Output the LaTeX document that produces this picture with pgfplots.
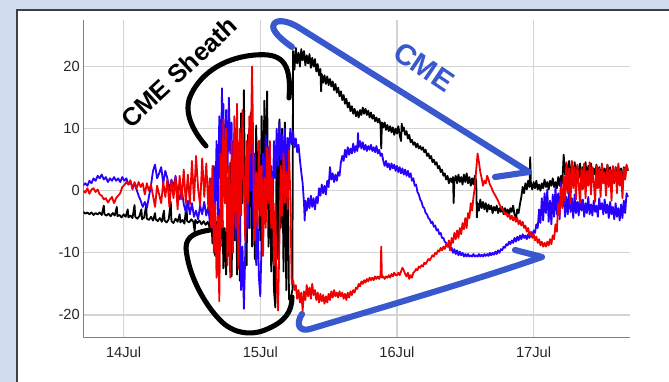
\documentclass[border=0pt]{standalone}
\usepackage{pgfplots}
\pgfplotsset{compat=1.18}
\usepackage{fontspec}
\setmainfont{Liberation Sans}
\definecolor{bgblue}{RGB}{207,221,239}
\definecolor{annblue}{RGB}{58,88,205}
\definecolor{serblue}{RGB}{40,0,255}
\definecolor{serred}{RGB}{240,0,0}
\begin{document}
\begin{tikzpicture}
\useasboundingbox (0,0) rectangle (501.75pt,286.5pt);
\fill[bgblue] (0,0) rectangle (501.75pt,286.5pt);
\begin{scope}[x=0.75pt,y=-0.75pt,shift={(0pt,286.5pt)}]
\fill[white] (17,10) rectangle (669,382);
\draw[black!75,line width=1.4pt] (17,382) -- (17,10) -- (669,10);
\end{scope}
\begin{axis}[at={(62.475pt,33.525pt)},anchor=south west,scale only axis,
  width=410pt,height=238pt,
  xmin=13.705,xmax=17.705,ymin=-23.6,ymax=27.5,
  axis x line*=bottom,axis y line*=left,
  axis line style={-,draw=black!50,line width=1.1pt},
  grid=major,major grid style={draw=black!17,line width=0.9pt},
  major tick length=0pt,
  xtick={14,15,16,17},xticklabels={14Jul,15Jul,16Jul,17Jul},
  ytick={-20,-10,0,10,20},yticklabels={-20,-10,0,10,20},
  ticklabel style={font=\fontsize{11}{12}\selectfont,text=black!85},
  yticklabel style={inner sep=0pt,xshift=-2.5pt},
  xticklabel style={inner sep=0pt,yshift=-6.8pt},
  every axis plot/.append style={line width=1.35pt,line join=round},
  clip=true]
% black
\addplot[black] coordinates {(13.705,-3.4)(13.72,-3.7)(13.735,-3.5)(13.75,-3.8)(13.765,-3.5)(13.78,-3.9)(13.795,-3.6)(13.81,-3.8)(13.825,-3.5)(13.84,-3.9)(13.855,-2.4)(13.86,-3.8)(13.875,-4.0)(13.89,-3.7)(13.905,-4.1)(13.92,-3.6)(13.935,-4.0)(13.95,-2.6)(13.955,-4.1)(13.97,-3.9)(13.985,-4.3)(14.00,-3.8)(14.015,-4.2)(14.03,-3.0)(14.035,-4.3)(14.05,-4.0)(14.065,-4.4)(14.08,-2.3)(14.085,-4.2)(14.10,-4.5)(14.115,-4.1)(14.13,-3.0)(14.135,-4.6)(14.15,-4.3)(14.165,-2.4)(14.17,-4.5)(14.185,-4.7)(14.20,-4.2)(14.215,-4.8)(14.23,-3.6)(14.235,-4.6)(14.25,-4.9)(14.265,-4.4)(14.28,-5.0)(14.295,-3.2)(14.30,-4.8)(14.315,-5.1)(14.33,-4.6)(14.345,-1.8)(14.35,-4.9)(14.365,-5.2)(14.38,-4.5)(14.395,-5.0)(14.41,-3.8)(14.415,-5.1)(14.43,-4.7)(14.445,-5.3)(14.46,-2.2)(14.465,-4.9)(14.48,-5.1)(14.495,-4.6)(14.51,-5.0)(14.52,-6.6)(14.525,-4.7)(14.54,-5.2)(14.555,-4.8)(14.57,-5.4)(14.585,-4.9)(14.60,-5.5)(14.615,-5.0)
(14.63,-6.0)(14.64,-3.5)(14.65,-8.5)(14.66,-4.0)(14.67,-10.5)(14.68,-5.0)(14.69,-12.0)(14.70,-3.0)(14.71,-9.0)(14.72,1.0)(14.73,-12.5)(14.74,-6.0)(14.75,-13.5)(14.76,-2.0)(14.77,-10.5)(14.78,4.5)(14.79,-13.8)(14.80,0.0)(14.81,-8.0)(14.82,10.0)(14.83,-13.5)(14.84,6.0)(14.85,-14.5)(14.86,12.5)(14.87,-2.0)(14.88,16.2)(14.89,-4.0)(14.90,-12.0)(14.91,9.0)(14.92,-6.0)(14.93,12.5)(14.94,-9.0)(14.95,6.0)(14.96,-11.0)(14.97,10.5)(14.98,-3.0)(14.99,8.0)(15.00,-8.0)(15.01,12.0)(15.02,-4.0)(15.03,14.5)(15.04,-1.0)(15.05,16.0)(15.06,-9.0)(15.07,6.0)(15.08,-13.0)(15.09,3.0)(15.10,-16.0)(15.11,-18.8)(15.12,7.0)(15.13,-11.0)(15.14,11.5)(15.15,-6.0)(15.16,10.0)(15.17,-13.0)(15.18,11.0)(15.19,-16.0)(15.20,8.0)(15.21,-17.5)(15.225,-17.0)(15.235,-16.0)
(15.24,22.5)(15.25,19.5)(15.26,23.0)(15.27,20.5)(15.28,22.2)(15.29,20.0)(15.30,22.8)(15.31,21.0)(15.32,22.5)(15.33,20.2)(15.34,21.8)(15.35,20.5)(15.36,22.0)(15.37,19.8)(15.38,21.4)(15.39,20.0)(15.40,21.2)(15.41,19.2)(15.42,20.4)(15.43,18.6)(15.44,19.6)(15.445,16.0)(15.45,18.8)(15.46,17.4)(15.47,18.6)(15.48,17.2)(15.49,18.4)(15.50,17.0)(15.51,18.0)(15.52,16.8)(15.53,17.6)(15.54,16.2)(15.55,17.2)(15.56,15.8)(15.57,16.6)(15.58,15.2)(15.59,16.0)(15.60,14.6)(15.61,15.4)(15.62,14.0)(15.63,14.8)(15.64,13.4)(15.65,14.2)(15.66,12.8)(15.67,13.6)(15.68,12.4)(15.69,13.2)(15.70,12.0)(15.71,12.8)(15.72,11.8)(15.73,13.0)(15.74,12.2)(15.75,13.4)(15.76,12.4)(15.77,13.2)(15.78,12.2)(15.79,12.9)(15.80,11.8)(15.81,12.6)(15.82,11.6)(15.83,12.2)(15.84,11.2)(15.85,11.8)(15.86,11.0)(15.87,11.6)(15.88,10.6)(15.885,6.8)(15.89,11.0)(15.90,10.2)(15.91,11.0)(15.92,9.8)(15.93,10.6)(15.94,9.6)(15.95,10.4)(15.96,9.4)(15.97,10.2)(15.98,9.0)(15.99,10.0)(16.00,9.2)(16.01,10.4)(16.02,9.0)(16.03,8.0)(16.035,10.8)(16.04,9.6)(16.05,10.2)(16.06,9.0)(16.07,9.6)(16.08,8.4)(16.09,9.0)(16.10,7.8)(16.11,8.2)(16.12,7.4)(16.13,7.8)(16.14,7.0)(16.15,7.6)(16.16,6.8)(16.17,7.2)(16.18,6.6)(16.19,7.0)(16.20,6.2)(16.21,6.6)(16.22,5.6)(16.23,6.0)(16.24,5.2)(16.25,5.6)(16.26,4.6)(16.27,5.0)(16.28,4.2)(16.29,4.6)(16.30,3.6)(16.31,4.0)(16.32,3.0)(16.33,3.4)(16.34,2.4)(16.35,2.8)(16.36,1.8)(16.37,2.4)(16.38,1.2)(16.39,2.0)(16.40,1.4)(16.41,2.2)(16.415,-2.0)(16.42,1.6)(16.43,2.4)(16.44,1.2)(16.45,2.6)(16.46,1.4)(16.47,2.2)(16.48,1.0)(16.49,2.6)(16.50,1.4)(16.51,2.8)(16.52,1.2)(16.53,2.2)(16.54,0.8)(16.55,2.0)(16.56,1.0)(16.57,2.4)(16.58,1.6)(16.585,-4.3)(16.59,-2.0)(16.60,-3.2)(16.61,-1.4)(16.62,-2.8)(16.63,-1.8)(16.64,-3.0)(16.65,-2.0)(16.66,-3.4)(16.67,-2.2)(16.68,-3.0)(16.69,-2.4)(16.70,-3.6)(16.71,-2.6)(16.72,-3.2)(16.73,-2.4)(16.74,-3.6)(16.75,-2.8)(16.76,-3.4)(16.77,-2.6)(16.78,-3.8)(16.79,-2.8)(16.80,-3.6)(16.81,-3.0)(16.82,-4.0)(16.83,-2.8)(16.84,-3.4)(16.85,-2.4)(16.86,-3.8)(16.87,-4.8)(16.88,-3.0)(16.89,-3.6)(16.90,-2.2)(16.91,-1.0)(16.92,0.6)(16.93,-0.4)(16.94,1.2)(16.95,0.2)(16.96,1.6)(16.97,0.6)(16.975,5.4)(16.98,1.2)(16.99,0.2)(17.00,1.4)(17.01,0.4)(17.02,1.6)(17.03,0.2)(17.04,1.0)(17.05,0.0)(17.06,1.2)(17.07,0.4)(17.08,1.8)(17.09,0.6)(17.10,1.4)(17.11,0.2)(17.12,1.6)(17.13,0.8)(17.14,2.0)(17.15,0.6)(17.16,1.4)(17.17,0.4)(17.18,2.2)(17.19,0.8)(17.20,2.4)(17.21,1.2)(17.22,5.8)(17.23,2.6)(17.24,4.4)(17.25,1.8)(17.26,4.8)(17.27,2.0)(17.28,4.2)(17.29,1.6)(17.30,4.6)(17.31,2.4)(17.32,4.0)(17.33,2.0)(17.34,4.4)(17.35,1.8)(17.36,3.8)(17.37,2.4)(17.38,4.6)(17.39,1.6)(17.40,4.0)(17.41,2.2)(17.42,4.4)(17.43,1.8)(17.44,3.6)(17.45,2.6)(17.46,4.2)(17.47,2.0)(17.48,3.8)(17.49,1.4)(17.50,4.0)(17.51,2.4)(17.52,3.6)(17.53,1.8)(17.54,4.2)(17.55,2.6)(17.56,3.8)(17.57,1.6)(17.58,3.4)(17.59,1.2)(17.60,3.8)(17.61,2.4)(17.62,4.0)(17.63,1.8)(17.64,3.6)(17.65,1.0)(17.66,3.8)(17.67,2.2)(17.68,4.0)(17.69,3.2)};
% blue
\addplot[serblue] coordinates {(13.705,0.9)(13.72,1.2)(13.735,0.8)(13.75,1.6)(13.765,1.2)(13.78,2.0)(13.795,1.6)(13.81,2.4)(13.825,2.0)(13.84,2.6)(13.855,1.8)(13.87,2.2)(13.885,1.4)(13.90,2.0)(13.915,1.6)(13.93,2.2)(13.945,1.6)(13.96,2.0)(13.975,1.4)(13.99,2.2)(14.005,1.6)(14.02,2.0)(14.035,1.0)(14.05,1.4)(14.065,0.6)(14.08,1.0)(14.095,0.2)(14.11,-0.8)(14.125,-1.6)(14.14,-2.6)(14.155,-1.8)(14.17,-2.8)(14.185,-1.0)(14.20,0.8)(14.215,3.2)(14.23,4.2)(14.245,2.0)(14.26,2.8)(14.275,3.8)(14.29,1.2)(14.305,3.2)(14.32,2.0)(14.335,0.0)(14.35,1.8)(14.365,0.6)(14.38,2.4)(14.395,-0.4)(14.41,-1.4)(14.425,0.4)(14.44,-2.2)(14.455,-3.4)(14.47,-1.6)(14.485,-3.8)(14.50,-2.0)(14.515,-4.2)(14.53,-3.2)(14.545,-4.6)(14.56,-2.4)(14.575,-3.8)(14.59,-1.8)(14.605,-4.0)(14.62,-2.6)
(14.63,-5.0)(14.64,2.0)(14.65,-6.0)(14.66,4.0)(14.67,-3.0)(14.68,8.0)(14.69,-4.0)(14.70,12.0)(14.71,2.0)(14.72,16.5)(14.725,4.0)(14.73,14.0)(14.74,-2.0)(14.75,13.0)(14.76,3.0)(14.77,15.0)(14.78,6.0)(14.79,11.0)(14.80,-4.0)(14.81,9.0)(14.82,-8.0)(14.83,5.0)(14.84,-12.0)(14.85,-4.0)(14.86,-16.0)(14.87,-9.0)(14.88,-19.0)(14.89,-10.0)(14.90,4.0)(14.91,-6.0)(14.92,10.0)(14.93,0.0)(14.94,8.0)(14.95,-6.0)(14.96,6.0)(14.97,-12.0)(14.98,-4.0)(14.99,-14.0)(15.00,-17.0)(15.01,-8.0)(15.02,6.0)(15.03,-2.0)(15.04,9.0)(15.05,2.0)(15.06,7.0)(15.07,-3.0)(15.08,4.0)(15.09,-5.0)(15.10,8.0)(15.11,2.0)(15.12,10.0)(15.13,4.0)(15.14,11.0)(15.15,5.0)(15.16,9.0)(15.17,3.0)(15.18,10.0)(15.19,2.0)(15.20,8.5)(15.21,6.0)
(15.22,10.0)(15.23,7.5)(15.24,9.6)(15.25,7.0)(15.26,8.4)(15.27,6.2)(15.28,7.4)(15.29,5.0)(15.30,3.0)(15.31,1.2)(15.32,-2.0)(15.325,-4.8)(15.33,-1.6)(15.34,-3.2)(15.35,-1.2)(15.36,-2.8)(15.37,-0.8)(15.38,-2.6)(15.39,-1.2)(15.40,-3.0)(15.41,-1.0)(15.42,-2.0)(15.43,0.4)(15.44,-0.8)(15.45,1.0)(15.46,-0.4)(15.47,0.8)(15.48,-0.6)(15.49,1.6)(15.50,0.6)(15.51,3.8)(15.52,1.8)(15.53,2.8)(15.54,1.4)(15.55,2.6)(15.56,1.6)(15.57,3.0)(15.58,2.4)(15.59,4.6)(15.60,5.6)(15.61,4.8)(15.62,6.6)(15.63,5.4)(15.64,7.0)(15.65,5.8)(15.66,6.8)(15.67,6.0)(15.68,7.6)(15.69,6.2)(15.70,7.2)(15.71,6.4)(15.715,9.3)(15.72,7.0)(15.73,8.0)(15.74,6.8)(15.75,7.8)(15.76,6.6)(15.77,7.4)(15.78,6.4)(15.79,7.2)(15.80,6.6)(15.81,7.4)(15.82,6.4)(15.83,7.0)(15.84,6.2)(15.85,7.2)(15.86,6.0)(15.87,6.6)(15.88,5.6)(15.89,6.0)(15.90,4.8)
(15.91,4.0)(15.92,4.8)(15.93,3.8)(15.94,4.4)(15.95,3.4)(15.96,4.4)(15.97,3.6)(15.98,4.2)(15.99,3.2)(16.00,4.0)(16.01,3.0)(16.02,3.8)(16.03,2.8)(16.04,3.6)(16.05,2.6)(16.06,3.4)(16.07,2.4)(16.08,3.2)(16.09,2.2)(16.10,2.8)(16.11,1.6)(16.12,2.0)(16.13,0.8)(16.14,1.0)(16.15,-0.2)(16.16,-0.6)(16.17,-1.4)(16.18,-1.8)(16.19,-2.6)(16.20,-2.8)(16.21,-3.6)(16.22,-3.8)(16.23,-4.4)(16.24,-4.6)(16.25,-5.2)(16.26,-5.0)(16.27,-5.8)(16.28,-5.6)(16.29,-6.4)(16.30,-6.2)(16.31,-7.0)(16.32,-6.8)(16.33,-7.6)(16.34,-7.6)(16.35,-8.2)(16.36,-8.4)(16.37,-9.0)(16.38,-8.8)(16.39,-9.6)(16.40,-9.2)(16.41,-10.0)(16.42,-9.4)(16.43,-10.2)(16.44,-9.6)(16.45,-10.4)(16.46,-9.8)(16.47,-10.4)(16.48,-10.0)(16.49,-10.6)(16.50,-10.2)(16.51,-10.6)(16.52,-10.2)(16.53,-10.6)(16.54,-10.4)(16.55,-10.6)(16.56,-10.2)(16.57,-10.6)(16.58,-10.4)(16.59,-10.6)(16.60,-10.2)(16.61,-10.6)(16.62,-10.3)(16.63,-10.6)(16.64,-10.2)(16.65,-10.5)(16.66,-10.2)(16.67,-10.5)(16.68,-10.0)(16.69,-10.4)(16.70,-10.0)(16.71,-10.3)(16.72,-9.8)(16.73,-10.2)(16.74,-9.6)(16.75,-10.0)(16.76,-9.4)(16.77,-9.6)(16.78,-9.0)(16.79,-9.2)(16.80,-8.6)(16.81,-8.8)(16.82,-8.2)(16.83,-8.6)(16.84,-8.0)(16.85,-8.4)(16.86,-7.6)(16.87,-8.2)(16.88,-7.4)(16.89,-8.0)(16.90,-7.2)(16.91,-7.8)(16.92,-7.0)(16.93,-7.6)(16.94,-7.2)(16.95,-7.8)(16.96,-7.0)(16.97,-7.6)(16.98,-6.8)(16.99,-7.4)(17.00,-6.4)(17.01,-6.8)(17.02,-5.4)(17.03,-6.0)(17.04,-3.0)(17.05,-5.2)(17.06,-1.2)(17.07,-4.8)(17.08,-0.4)(17.09,-3.6)(17.10,0.2)(17.11,-5.0)(17.12,-1.6)(17.13,-5.4)(17.14,-0.6)(17.15,-4.2)(17.16,0.6)(17.17,-3.8)(17.18,-0.4)(17.19,-4.6)(17.20,1.4)(17.21,-2.6)(17.22,-0.2)(17.23,-4.2)(17.24,-1.0)(17.25,-3.8)(17.26,0.2)(17.27,-3.4)(17.28,-1.2)(17.29,-4.4)(17.30,-0.6)(17.31,-3.6)(17.32,-1.8)(17.33,-4.0)(17.34,-0.8)(17.35,-3.2)(17.36,-1.4)(17.37,-4.2)(17.38,-2.0)(17.39,-3.6)(17.40,-1.0)(17.41,-3.8)(17.42,-2.2)(17.43,-4.0)(17.44,-1.6)(17.45,-3.4)(17.46,-2.4)(17.47,-4.2)(17.48,-1.2)(17.49,-3.0)(17.50,-2.0)(17.51,-3.8)(17.52,-1.4)(17.53,-3.6)(17.54,-2.2)(17.55,-4.4)(17.56,-1.8)(17.57,-3.8)(17.58,-2.6)(17.59,-4.6)(17.60,-2.0)(17.61,-4.2)(17.62,-2.8)(17.63,-4.8)(17.64,-2.2)(17.65,-4.4)(17.66,-1.6)(17.67,-3.6)(17.68,-0.4)(17.69,-1.0)};
% red
\addplot[serred] coordinates {(13.705,0.0)(13.72,-0.3)(13.735,0.4)(13.75,-0.5)(13.765,0.2)(13.78,0.4)(13.795,-0.2)(13.81,0.2)(13.825,-0.6)(13.84,-0.8)(13.855,-1.4)(13.87,-1.2)(13.885,-1.9)(13.90,-1.4)(13.915,-1.0)(13.93,-2.0)(13.945,-1.2)(13.96,-0.8)(13.975,-0.4)(13.99,0.6)(14.005,0.9)(14.02,1.4)(14.035,1.0)(14.05,1.7)(14.065,0.2)(14.08,1.4)(14.095,0.4)(14.11,1.4)(14.125,0.6)(14.14,1.2)(14.155,-0.6)(14.17,1.2)(14.185,0.0)(14.20,1.0)(14.215,-0.8)(14.23,-2.6)(14.245,0.8)(14.26,-0.6)(14.275,-2.0)(14.29,1.4)(14.305,-1.0)(14.32,1.8)(14.335,-2.6)(14.35,1.6)(14.365,-1.2)(14.38,2.2)(14.395,-3.0)(14.41,2.4)(14.425,-1.4)(14.44,3.4)(14.455,-2.0)(14.47,2.6)(14.485,-2.2)(14.50,4.8)(14.515,-1.6)(14.53,5.6)(14.545,0.4)(14.56,-2.4)(14.575,5.2)(14.59,-1.0)(14.605,4.4)(14.62,-3.0)
(14.63,2.0)(14.64,-6.0)(14.65,4.0)(14.66,-10.0)(14.67,-2.0)(14.68,-14.0)(14.69,-4.0)(14.70,-17.8)(14.705,-8.0)(14.71,6.0)(14.72,-6.0)(14.73,11.5)(14.74,-2.0)(14.75,10.0)(14.76,-12.0)(14.77,4.0)(14.78,-14.0)(14.79,8.0)(14.80,-10.0)(14.81,12.0)(14.82,-6.0)(14.83,14.0)(14.84,-12.5)(14.85,10.0)(14.86,-4.0)(14.87,13.0)(14.88,2.0)(14.89,-8.0)(14.90,8.0)(14.91,-2.0)(14.92,12.0)(14.93,6.0)(14.94,20.0)(14.95,4.0)(14.96,-8.0)(14.97,3.0)(14.98,-6.0)(14.99,8.0)(15.00,-4.0)(15.01,4.0)(15.02,-10.5)(15.03,2.0)(15.04,-6.0)(15.05,7.0)(15.06,-2.0)(15.07,8.0)(15.08,-6.0)(15.09,2.0)(15.10,-12.0)(15.11,-2.0)(15.12,-15.0)(15.13,-19.3)(15.14,-8.0)(15.15,4.0)(15.16,-4.0)(15.17,6.0)(15.18,-2.0)(15.19,3.0)(15.20,-3.0)(15.21,6.5)(15.22,-1.0)
(15.23,-15.0)(15.24,-14.4)(15.25,-16.0)(15.26,-15.2)(15.27,-17.4)(15.28,-16.0)(15.29,-18.0)(15.30,-16.4)(15.31,-19.3)(15.32,-16.2)(15.33,-17.6)(15.34,-15.2)(15.35,-17.0)(15.36,-15.6)(15.37,-17.4)(15.38,-15.0)(15.39,-16.8)(15.40,-16.0)(15.41,-17.6)(15.42,-16.4)(15.43,-18.0)(15.44,-16.6)(15.45,-17.8)(15.46,-16.8)(15.47,-18.2)(15.48,-17.0)(15.49,-18.0)(15.50,-16.6)(15.51,-17.6)(15.52,-16.2)(15.53,-17.2)(15.54,-16.0)(15.55,-17.0)(15.56,-16.4)(15.57,-17.2)(15.58,-16.2)(15.59,-17.0)(15.60,-16.4)(15.61,-17.4)(15.62,-16.6)(15.63,-17.6)(15.64,-16.4)(15.65,-17.2)(15.66,-16.2)(15.67,-16.8)(15.68,-16.0)(15.69,-16.4)(15.70,-15.6)(15.71,-15.8)(15.72,-15.0)(15.73,-15.4)(15.74,-14.6)(15.75,-15.0)(15.76,-14.4)(15.77,-14.8)(15.78,-14.2)(15.79,-14.6)(15.80,-14.0)(15.81,-14.4)(15.82,-14.0)(15.83,-14.4)(15.84,-13.8)(15.85,-14.2)(15.86,-13.8)(15.87,-14.2)(15.88,-13.6)(15.885,-9.0)(15.89,-14.0)(15.90,-13.8)(15.91,-14.2)(15.92,-13.8)(15.93,-14.0)(15.94,-13.6)(15.95,-14.0)(15.96,-13.4)(15.97,-13.8)(15.98,-13.2)(15.99,-13.6)
(16.00,-13.6)(16.01,-13.2)(16.02,-13.6)(16.03,-13.0)(16.04,-12.4)(16.05,-12.8)(16.06,-13.4)(16.07,-13.8)(16.08,-13.2)(16.09,-14.2)(16.10,-13.6)(16.11,-14.0)(16.12,-13.2)(16.13,-13.0)(16.14,-12.6)(16.15,-12.8)(16.16,-12.2)(16.17,-12.4)(16.18,-12.0)(16.19,-12.2)(16.20,-11.6)(16.21,-11.8)(16.22,-11.4)(16.23,-11.0)(16.24,-11.2)(16.25,-10.8)(16.26,-10.4)(16.27,-10.6)(16.28,-10.0)(16.29,-10.2)(16.30,-9.6)(16.31,-9.8)(16.32,-9.2)(16.33,-9.6)(16.34,-9.0)(16.35,-9.4)(16.36,-8.6)(16.37,-9.0)(16.38,-8.0)(16.39,-9.6)(16.40,-7.6)(16.41,-8.4)(16.42,-6.8)(16.43,-7.8)(16.44,-6.4)(16.45,-7.6)(16.46,-6.0)(16.47,-7.0)(16.48,-5.2)(16.49,-6.2)(16.50,-4.4)(16.51,-6.0)(16.52,-3.6)(16.53,-4.4)(16.54,-2.0)(16.55,-3.2)(16.56,-1.0)(16.57,0.6)(16.58,3.4)(16.59,6.0)(16.60,4.6)(16.61,3.0)(16.62,2.0)(16.63,0.8)(16.64,1.6)(16.65,1.2)(16.66,2.4)(16.67,1.8)(16.68,1.0)(16.69,0.6)(16.70,0.0)(16.71,-0.4)(16.72,-0.8)(16.73,-1.2)(16.74,-1.6)(16.75,-2.2)(16.76,-2.6)(16.77,-3.0)(16.78,-3.2)(16.79,-3.8)(16.80,-3.6)(16.81,-4.2)(16.82,-3.8)(16.83,-4.6)(16.84,-4.0)(16.85,-4.8)(16.86,-4.2)(16.87,-5.0)(16.88,-4.4)(16.89,-5.4)(16.90,-4.8)(16.91,-5.6)(16.92,-5.0)(16.93,-6.0)(16.94,-5.6)(16.95,-6.6)(16.96,-6.0)(16.97,-7.2)(16.98,-6.6)(16.99,-7.6)(17.00,-7.0)(17.01,-8.0)(17.02,-7.4)(17.03,-8.4)(17.04,-7.8)(17.05,-8.8)(17.06,-8.2)(17.07,-9.0)(17.08,-8.4)(17.09,-9.0)(17.10,-8.2)(17.11,-8.8)(17.12,-7.8)(17.13,-8.6)(17.14,-7.2)(17.15,-7.8)(17.16,-5.4)(17.17,-6.6)(17.18,-2.0)(17.19,-4.0)(17.20,0.6)(17.21,-2.8)(17.22,2.4)(17.23,-1.6)(17.24,4.6)(17.25,-0.4)(17.26,3.6)(17.27,-2.0)(17.28,4.8)(17.29,0.4)(17.30,3.8)(17.31,-1.4)(17.32,4.2)(17.33,1.0)(17.34,-2.0)(17.35,3.6)(17.36,0.2)(17.37,4.4)(17.38,-1.2)(17.39,3.2)(17.40,0.8)(17.41,4.6)(17.42,-0.6)(17.43,3.8)(17.44,1.6)(17.45,-1.8)(17.46,4.0)(17.47,0.4)(17.48,3.6)(17.49,-1.0)(17.50,4.4)(17.51,1.2)(17.52,3.0)(17.53,-0.8)(17.54,4.2)(17.55,0.6)(17.56,3.4)(17.57,-1.6)(17.58,4.0)(17.59,1.4)(17.60,3.8)(17.61,-0.4)(17.62,4.4)(17.63,0.8)(17.64,3.2)(17.65,-1.2)(17.66,3.6)(17.67,1.8)(17.68,4.2)(17.69,3.4)};
\end{axis}
\begin{scope}[x=0.75pt,y=-0.75pt,shift={(0pt,286.5pt)}]
% black brackets
\draw[black,line width=3.8pt,line cap=round] (206,146) .. controls (192,130) and (184,112) .. (190,97) .. controls (198,77) and (220,58) .. (255,55) .. controls (280,53) and (292,60) .. (289,98);
\draw[black,line width=3.8pt,line cap=round] (210,230) .. controls (198,232) and (186,235) .. (186,248) .. controls (188,275) and (205,305) .. (220,320) .. controls (232,333) and (250,336) .. (265,330) .. controls (285,322) and (292,312) .. (292,297);
% blue triangle
\draw[annblue,line width=4.6pt,line cap=round,line join=round] (292,47) .. controls (282,40) and (270,30) .. (274,24) .. controls (277,19) and (288,21) .. (298,27) -- (529,172) -- (495,177);
\draw[annblue,line width=4.6pt,line cap=round,line join=round] (515,250) -- (542,257) .. controls (470,282) and (380,308) .. (310,329) .. controls (300,332) and (295,325) .. (302,314);
\node[rotate=43,inner sep=0pt,font=\fontsize{19}{22}\bfseries\selectfont] at (179,72) {CME Sheath};
\node[rotate=-34,inner sep=0pt,font=\fontsize{22}{25}\bfseries\selectfont,text=annblue] at (424,67) {CME};
\end{scope}
\end{tikzpicture}
\end{document}
